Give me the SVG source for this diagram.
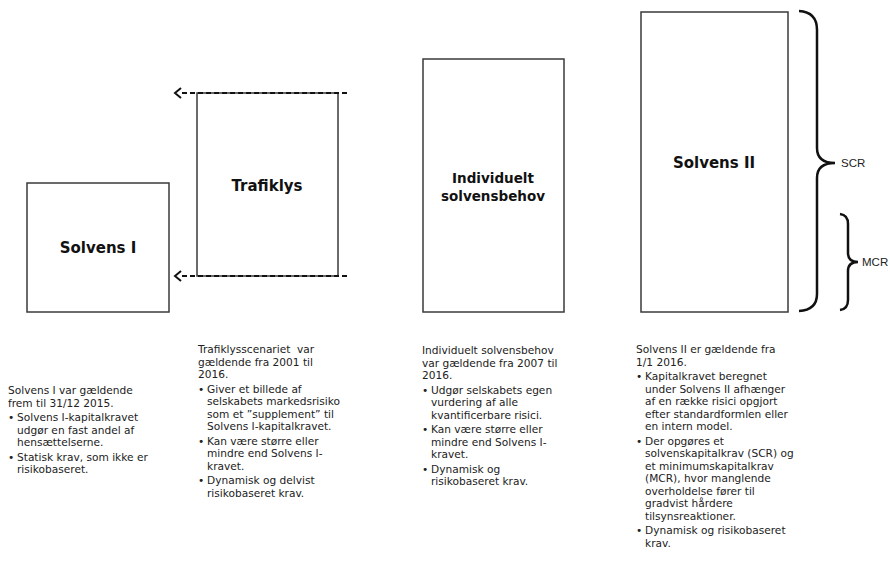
<svg xmlns="http://www.w3.org/2000/svg" width="890" height="563" viewBox="0 0 890 563">
<defs>
<style>
.box{fill:#fff;stroke:#3a3a3a;stroke-width:1.5}
.title{font-family:"DejaVu Sans",Verdana,sans-serif;font-weight:bold;font-size:15px;fill:#111;text-anchor:middle}
.title2{font-family:"DejaVu Sans",Verdana,sans-serif;font-weight:bold;font-size:13.5px;fill:#111;text-anchor:middle}
.body{font-family:"DejaVu Sans",Verdana,sans-serif;font-size:10.6px;fill:#222}
.dash{stroke:#111;stroke-width:2;stroke-dasharray:5,3;fill:none}
.brace{fill:none;stroke:#111;stroke-width:2.5}
.lbl{font-family:"Liberation Sans",Arial,sans-serif;font-size:11.5px;fill:#222}
</style>
<marker id="chev" markerWidth="12" markerHeight="12" refX="1" refY="6" orient="auto" markerUnits="userSpaceOnUse">
<path d="M1,1 L7,6 L1,11" fill="none" stroke="#111" stroke-width="2"/>
</marker>
</defs>
<rect width="890" height="563" fill="#fff"/>

<g id="solvens1">
<rect class="box" x="27" y="183" width="142" height="129"/>
<text class="title" x="98" y="253">Solvens I</text>
</g>

<g id="trafiklys">
<rect class="box" x="197" y="93" width="141" height="183"/>
<text class="title" x="267" y="191">Trafiklys</text>
</g>

<g id="individuelt">
<rect class="box" x="423" y="59" width="141" height="253"/>
<text class="title2" x="493" y="183">Individuelt</text>
<text class="title2" x="493" y="201">solvensbehov</text>
</g>

<g id="solvens2">
<rect class="box" x="641" y="12" width="147" height="300"/>
<text class="title" x="714" y="168">Solvens II</text>
</g>

<g id="connectors">
<line class="dash" x1="347" y1="93" x2="181" y2="93" marker-end="url(#chev)"/>
<line class="dash" x1="347" y1="276" x2="181" y2="276" marker-end="url(#chev)"/>
<path class="brace" d="M799,11 Q817,12 817,30 L817,148 Q817,163 835,163 Q817,163 817,178 L817,294 Q817,310 799,311"/>
<path class="brace" d="M840,214 Q848,215 848,224 L848,253 Q848,262 858,262 Q848,262 848,271 L848,300 Q848,309 840,310"/>
<text class="lbl" x="841" y="167">SCR</text>
<text class="lbl" x="862" y="266">MCR</text>
</g>

<g id="text-solvens1" class="body">
<text x="8" y="394">Solvens I var gældende</text>
<text x="8" y="406.5">frem til 31/12 2015.</text>
<text x="8" y="421">•</text><text x="17" y="421">Solvens I-kapitalkravet</text>
<text x="17" y="433.5">udgør en fast andel af</text>
<text x="17" y="446">hensættelserne.</text>
<text x="8" y="460.5">•</text><text x="17" y="460.5">Statisk krav, som ikke er</text>
<text x="17" y="473">risikobaseret.</text>
</g>

<g id="text-trafiklys" class="body">
<text x="198" y="353" style="white-space:pre">Trafiklysscenariet  var</text>
<text x="198" y="365.5">gældende fra 2001 til</text>
<text x="198" y="378">2016.</text>
<text x="198" y="392.5">•</text><text x="207" y="392.5">Giver et billede af</text>
<text x="207" y="405">selskabets markedsrisiko</text>
<text x="207" y="417.5">som et ”supplement” til</text>
<text x="207" y="430">Solvens I-kapitalkravet.</text>
<text x="198" y="444.5">•</text><text x="207" y="444.5">Kan være større eller</text>
<text x="207" y="457">mindre end Solvens I-</text>
<text x="207" y="469.5">kravet.</text>
<text x="198" y="484">•</text><text x="207" y="484">Dynamisk og delvist</text>
<text x="207" y="496.5">risikobaseret krav.</text>
</g>

<g id="text-individuelt" class="body">
<text x="422" y="354">Individuelt solvensbehov</text>
<text x="422" y="366.5">var gældende fra 2007 til</text>
<text x="422" y="379">2016.</text>
<text x="422" y="393.5">•</text><text x="431" y="393.5">Udgør selskabets egen</text>
<text x="431" y="406">vurdering af alle</text>
<text x="431" y="418.5">kvantificerbare risici.</text>
<text x="422" y="433">•</text><text x="431" y="433">Kan være større eller</text>
<text x="431" y="445.5">mindre end Solvens I-</text>
<text x="431" y="458">kravet.</text>
<text x="422" y="472.5">•</text><text x="431" y="472.5">Dynamisk og</text>
<text x="431" y="485">risikobaseret krav.</text>
</g>

<g id="text-solvens2" class="body">
<text x="636" y="353">Solvens II er gældende fra</text>
<text x="636" y="365.5">1/1 2016.</text>
<text x="636" y="380">•</text><text x="645" y="380">Kapitalkravet beregnet</text>
<text x="645" y="392.5">under Solvens II afhænger</text>
<text x="645" y="405">af en række risici opgjort</text>
<text x="645" y="417.5">efter standardformlen eller</text>
<text x="645" y="430">en intern model.</text>
<text x="636" y="444.5">•</text><text x="645" y="444.5">Der opgøres et</text>
<text x="645" y="457">solvenskapitalkrav (SCR) og</text>
<text x="645" y="469.5">et minimumskapitalkrav</text>
<text x="645" y="482">(MCR), hvor manglende</text>
<text x="645" y="494.5">overholdelse fører til</text>
<text x="645" y="507">gradvist hårdere</text>
<text x="645" y="519.5">tilsynsreaktioner.</text>
<text x="636" y="534">•</text><text x="645" y="534">Dynamisk og risikobaseret</text>
<text x="645" y="546.5">krav.</text>
</g>
</svg>
